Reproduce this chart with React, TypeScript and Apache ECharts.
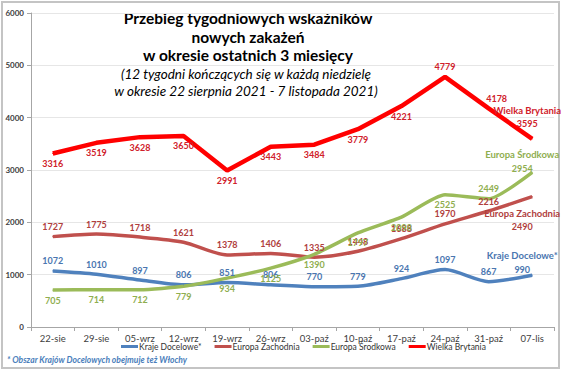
import React, { useEffect, useRef } from "react";
import * as echarts from "echarts";

const categories = ["22-sie", "29-sie", "05-wrz", "12-wrz", "19-wrz", "26-wrz", "03-paź", "10-paź", "17-paź", "24-paź", "31-paź", "07-lis"];
const krajeDocelowe = [1072, 1010, 897, 806, 851, 806, 770, 779, 924, 1097, 867, 990];
const europaZachodnia = [1727, 1775, 1718, 1621, 1378, 1406, 1335, 1448, 1688, 1970, 2216, 2490];
const europaSrodkowa = [705, 714, 712, 779, 934, 1125, 1390, 1797, 2098, 2525, 2449, 2954];
const wielkaBrytania = [3316, 3519, 3628, 3650, 2991, 3443, 3484, 3779, 4221, 4779, 4178, 3595];
const seriesNames = ["Kraje Docelowe*", "Europa Zachodnia", "Europa Środkowa", "Wielka Brytania"];
const yTicks = [0, 1000, 2000, 3000, 4000, 5000, 6000];

const titleLines = ["Przebieg tygodniowych wskaźników", "nowych zakażeń", "w okresie ostatnich 3 miesięcy"];
const subtitleLines = ["(12 tygodni kończących się w każdą niedzielę", "w okresie 22 sierpnia 2021 - 7 listopada 2021)"];
const footnote = "* Obszar Krajów Docelowych obejmuje też Włochy";

// label placement (style, not data)
const posKraje = ["top", "top", "top", "top", "top", "top", "top", "top", "top", "top", "top", "top"];
const posZach = ["top", "top", "top", "top", "top", "top", "top", "top", "top", "top", "top", "bottom"];
const posSrod = ["bottom", "bottom", "bottom", "bottom", "bottom", "bottom", "bottom", "bottom", "bottom", "bottom", "top", "top"];
const posUK = ["bottom", "bottom", "bottom", "bottom", "bottom", "bottom", "bottom", "bottom", "bottom", "top", "top", "top"];
const offUK: number[][] = [[0, 0], [0, 0], [0, 0], [0, 0], [0, 0], [0, 0], [0, 0], [0, 0], [0, 0], [0, 0], [8, 0], [-5, 0]];

const FONT = "Lato, 'Noto Sans', sans-serif";

export default function App() {
  const ref = useRef<HTMLDivElement>(null);
  useEffect(() => {
    document.body.style.margin = "0";
    if (!ref.current) return;
    const chart = echarts.init(ref.current, null, { renderer: "svg" });

    const mk = (
      name: string,
      values: number[],
      pos: string[],
      lineColor: string,
      labelColor: string,
      width: number,
      smooth: number | boolean,
      offsets: number[][] | null,
      lastOffset: number[],
      lastDist: number
    ) => ({
      name,
      type: "line",
      smooth,
      symbol: "circle",
      symbolSize: 1,
      showSymbol: true,
      itemStyle: { color: lineColor },
      lineStyle: { color: lineColor, width },
      z: name === "Wielka Brytania" ? 5 : 3,
      data: values.map((v, i) => {
        const last = i === values.length - 1;
        return {
          value: v,
          label: {
            show: true,
            position: pos[i],
            distance: last ? lastDist : 3,
            offset: last ? lastOffset : offsets ? offsets[i] : [0, 0],
            color: labelColor,
            fontFamily: FONT,
            fontWeight: "bold",
            fontSize: 9,
            lineHeight: 13,
            align: "center",
            formatter: last ? `{n|${name}}\n${v}` : `${v}`,
            rich: { n: { fontFamily: FONT, fontWeight: "bold", fontSize: 9.5, color: labelColor, lineHeight: 14 } },
          },
        };
      }),
    });

    const option: any = {
      animation: false,
      backgroundColor: "#ffffff",
      grid: { left: 31, right: 10, top: 13, bottom: 46, containLabel: false },
      xAxis: {
        type: "category",
        data: categories,
        boundaryGap: true,
        axisLine: { lineStyle: { color: "#a6a6a6", width: 1 } },
        axisTick: { show: true, length: 4, lineStyle: { color: "#a6a6a6" } },
        axisLabel: { color: "#404040", fontFamily: FONT, fontSize: 9.5, margin: 6, interval: 0 },
      },
      yAxis: {
        type: "value",
        min: yTicks[0],
        max: yTicks[yTicks.length - 1],
        interval: 1000,
        axisLine: { show: true, lineStyle: { color: "#a6a6a6", width: 1 } },
        axisTick: { show: true, length: 4, lineStyle: { color: "#a6a6a6" } },
        axisLabel: { color: "#404040", fontFamily: FONT, fontSize: 8, fontWeight: "bold", margin: 7, formatter: (v: number) => String(v) },
        splitLine: { lineStyle: { color: "#e6e6e6", width: 1 } },
      },
      legend: {
        data: seriesNames,
        left: 121,
        top: 342,
        itemWidth: 17,
        itemHeight: 3,
        itemGap: 13,
        padding: 0,
        icon: "rect",
        textStyle: { fontFamily: FONT, fontSize: 8.5, color: "#333", padding: [0, 0, 0, -4] },
      },
      graphic: [
        {
          type: "rect",
          shape: { x: 2, y: 2, width: 557, height: 366 },
          style: { fill: "none", stroke: "#c4c4c4", lineWidth: 2 },
          silent: true,
        },
        ...titleLines.map((t, i) => ({
          type: "text",
          x: 248,
          y: 18 + i * 18.5,
          style: { text: t, fontFamily: FONT, fontWeight: "bold", fontSize: 15.5, fill: "#000", textAlign: "center", textVerticalAlign: "middle" },
        })),
        ...subtitleLines.map((t, i) => ({
          type: "text",
          x: 246,
          y: 74 + i * 17,
          style: { text: t, fontFamily: FONT, fontStyle: "italic", fontSize: 13.5, fill: "#000", textAlign: "center", textVerticalAlign: "middle" },
        })),
        {
          type: "text",
          x: 7,
          y: 360,
          style: { text: footnote, fontFamily: FONT, fontStyle: "italic", fontWeight: "bold", fontSize: 8.5, fill: "#4a7ebb", textVerticalAlign: "middle" },
        },
      ],
      series: [
        mk(seriesNames[0], krajeDocelowe, posKraje, "#4f81bd", "#4a76b0", 3.5, 0.25, null, [-10, 0], -1),
        mk(seriesNames[1], europaZachodnia, posZach, "#c0504d", "#b0403d", 3.5, 0.25, null, [-10, 0], 9),
        mk(seriesNames[2], europaSrodkowa, posSrod, "#9bbb59", "#8fae4f", 3.5, 0.2, null, [-10, 0], -3),
        mk(seriesNames[3], wielkaBrytania, posUK, "#ff0000", "#d0202a", 4.5, false, offUK, [-5, 0], 8),
      ],
    };
    chart.setOption(option);
    return () => chart.dispose();
  }, []);
  return <div ref={ref} style={{ width: 564, height: 373 }} />;
}
